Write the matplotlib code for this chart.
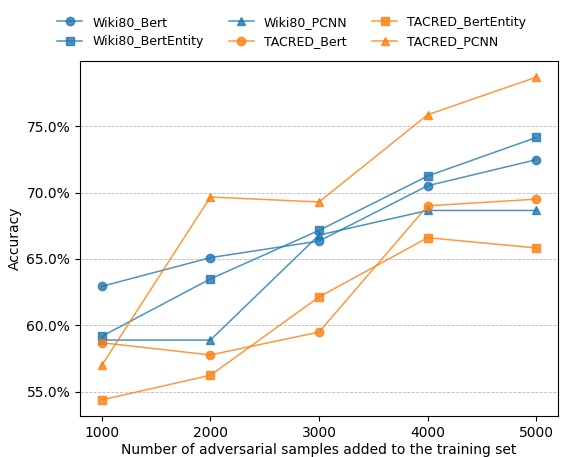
import matplotlib.pyplot as plt
from matplotlib.ticker import PercentFormatter

# 데이터
samples = [1000, 2000, 3000, 4000, 5000]
wiki80_bert = [62.94, 65.10, 66.35, 70.51, 72.47]
wiki80_bertentity = [59.18, 63.50, 67.15, 71.24, 74.14]
wiki80_pcnn = [58.90, 58.90, 66.80, 68.65, 68.65]
tacred_bert = [58.70, 57.78, 59.50, 69.00, 69.50]
tacred_bertentity = [54.40, 56.25, 62.14, 66.60, 65.83]
tacred_pcnn = [57.00, 69.66, 69.29, 75.85, 78.68]

series = [
    ("Wiki80_Bert", wiki80_bert, "tab:blue", "o"),
    ("Wiki80_BertEntity", wiki80_bertentity, "tab:blue", "s"),
    ("Wiki80_PCNN", wiki80_pcnn, "tab:blue", "^"),
    ("TACRED_Bert", tacred_bert, "tab:orange", "o"),
    ("TACRED_BertEntity", tacred_bertentity, "tab:orange", "s"),
    ("TACRED_PCNN", tacred_pcnn, "tab:orange", "^"),
]

fig = plt.figure(figsize=(5.72, 4.57), dpi=100)
ax = fig.add_axes([0.14, 0.0897, 0.8355, 0.7768])

for name, vals, color, marker in series:
    ax.plot(samples, vals, color=color, marker=marker, markersize=6,
            linewidth=1.1, alpha=0.8, label=name)

ax.set_xticks(samples)
ax.yaxis.set_major_formatter(PercentFormatter(decimals=1))
ax.grid(axis="y", linestyle="--", linewidth=0.6, color="#bbbbbb")
ax.set_xlabel("Number of adversarial samples added to the training set", labelpad=2.5)
ax.set_ylabel("Accuracy", labelpad=3)

fig.legend(loc="upper center", bbox_to_anchor=(0.51, 0.99), ncol=3,
           frameon=False, fontsize=9)

plt.savefig("out.png", dpi=100)
